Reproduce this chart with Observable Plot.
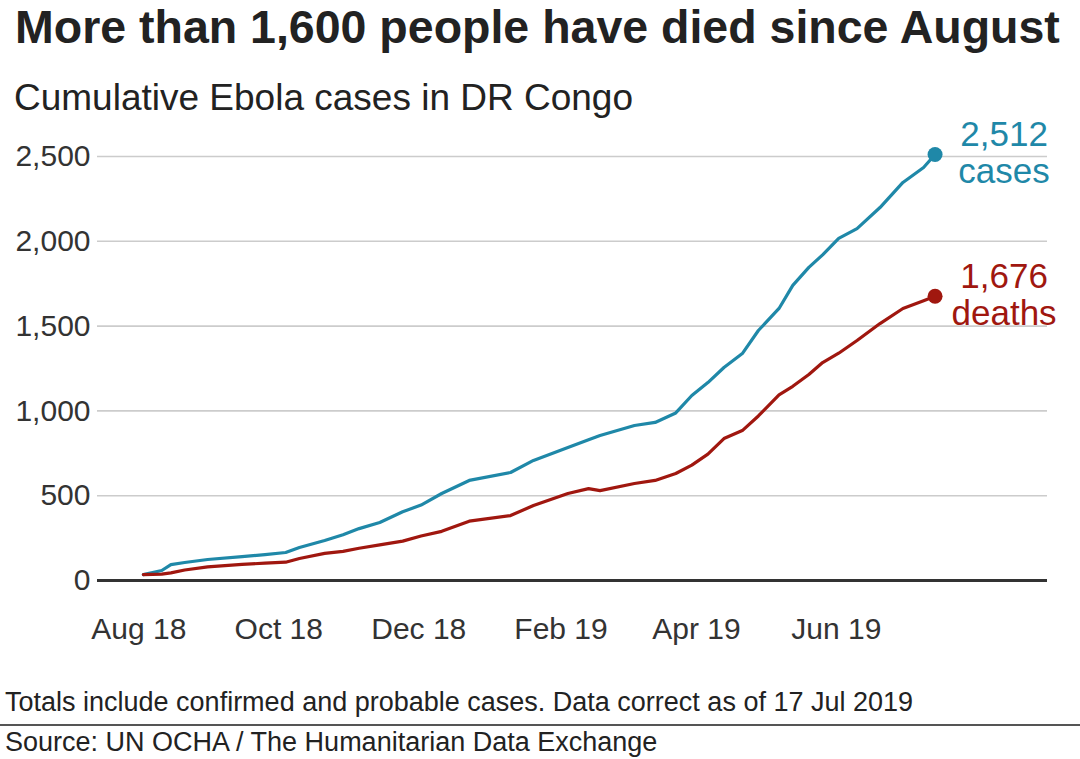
<!DOCTYPE html>
<html>
<head>
<meta charset="utf-8">
<script src="https://cdn.jsdelivr.net/npm/d3@7"></script>
<script src="https://cdn.jsdelivr.net/npm/@observablehq/plot@0.6"></script>
<style>
  html, body { margin: 0; padding: 0; background: #fff; }
  body { width: 1080px; height: 759px; position: relative; overflow: hidden; font-family: "Liberation Sans", Arial, sans-serif; color: #222; }
  .t { position: absolute; white-space: nowrap; line-height: 1; }
  #title { left: 15px; top: 0px; font-size: 46.5px; line-height: normal; font-weight: bold; color: #222; }
  #subtitle { left: 14px; top: 79px; font-size: 37px; color: #222; }
  #chart { position: absolute; left: 0; top: 115px; }
  #note { left: 5px; top: 689px; font-size: 27px; color: #222; }
  #rule { position: absolute; left: 0; top: 724px; width: 1080px; height: 0; border-top: 2px solid #555; }
  #source { left: 5px; top: 729px; font-size: 27px; color: #222; }
</style>
</head>
<body>
<div id="title" class="t">More than 1,600 people have died since August</div>
<div id="subtitle" class="t">Cumulative Ebola cases in DR Congo</div>
<div id="chart"></div>
<div id="note" class="t">Totals include confirmed and probable cases. Data correct as of 17 Jul 2019</div>
<div id="rule"></div>
<div id="source" class="t">Source: UN OCHA / The Humanitarian Data Exchange</div>
<script>
// Dates of readings
const dates = [
  "2018-08-03","2018-08-11","2018-08-15","2018-08-21","2018-08-31","2018-09-15","2018-09-25",
  "2018-10-04","2018-10-10","2018-10-21","2018-10-29","2018-11-05","2018-11-14","2018-11-24",
  "2018-12-02","2018-12-11","2018-12-23","2019-01-10","2019-01-20","2019-02-04","2019-02-13",
  "2019-02-18","2019-03-05","2019-03-14","2019-03-23","2019-03-30","2019-04-06","2019-04-13",
  "2019-04-21","2019-04-28","2019-05-07","2019-05-13","2019-05-20","2019-05-26","2019-06-02",
  "2019-06-10","2019-06-20","2019-06-30","2019-07-09","2019-07-14"
];
const cases = [
  35, 59, 94, 106, 124, 141, 153,
  165, 195, 236, 270, 306, 342, 405,
  445, 513, 590, 637, 708, 784, 830,
  855, 914, 932, 988, 1091, 1167, 1256,
  1338, 1474, 1604, 1740, 1846, 1920, 2017,
  2075, 2199, 2347, 2435, 2512
];
const deaths = [
  35, 38, 45, 62, 80, 95, 102,
  108, 130, 160, 172, 190, 210, 232,
  262, 290, 350, 383, 442, 513, 542,
  530, 572, 590, 631, 680, 745, 837,
  884, 970, 1095, 1145, 1215, 1285, 1340,
  1415, 1515, 1604, 1650, 1676
];
const seriesNames = ["cases", "deaths"];
const seriesColors = ["#1f88a8", "#a0170f"];
const endNumbers = ["2,512", "1,676"];
const yTicks = [0, 500, 1000, 1500, 2000, 2500];
const xTicks = ["2018-08-01","2018-10-01","2018-12-01","2019-02-01","2019-04-01","2019-06-01"];

const parse = d3.utcParse("%Y-%m-%d");
const caseRows = dates.map((d, i) => ({date: parse(d), value: cases[i]}));
const deathRows = dates.map((d, i) => ({date: parse(d), value: deaths[i]}));
const lastDate = parse(dates[dates.length - 1]);
const ends = [
  {date: lastDate, value: cases[cases.length - 1], num: endNumbers[0], word: seriesNames[0], color: seriesColors[0]},
  {date: lastDate, value: deaths[deaths.length - 1], num: endNumbers[1], word: seriesNames[1], color: seriesColors[1]}
];

const chart = Plot.plot({
  width: 1080,
  height: 540,
  marginLeft: 97,
  marginRight: 33,
  marginTop: 41,
  marginBottom: 75,
  style: {fontFamily: "'Liberation Sans', Arial, sans-serif", background: "transparent", color: "#333"},
  x: {type: "utc", domain: [parse("2018-07-14"), parse("2019-09-01")]},
  y: {domain: [0, 2500]},
  marks: [
    Plot.ruleY(yTicks.filter(d => d > 0), {stroke: "#cccccc", strokeWidth: 1.6}),
    Plot.axisY(yTicks, {tickSize: 0, tickPadding: 7, fontSize: 30, tickFormat: d3.format(","), label: null, color: "#333"}),
    Plot.axisX(xTicks.map(parse), {tickSize: 0, tickPadding: 37, fontSize: 30, tickFormat: d3.utcFormat("%b %y"), label: null, color: "#333"}),
    Plot.line(caseRows, {x: "date", y: "value", stroke: seriesColors[0], strokeWidth: 3.2}),
    Plot.line(deathRows, {x: "date", y: "value", stroke: seriesColors[1], strokeWidth: 3.2}),
    Plot.ruleY([0], {stroke: "#333", strokeWidth: 3}),
    Plot.dot(ends, {x: "date", y: "value", r: 7.5, fill: "color", stroke: "none"}),
    Plot.text(ends, {x: "date", y: "value", text: "num", fill: "color", dx: 69, dy: -8, fontSize: 35, textAnchor: "middle", lineAnchor: "bottom"}),
    Plot.text(ends, {x: "date", y: "value", text: "word", fill: "color", dx: 69, dy: 4, fontSize: 35, textAnchor: "middle", lineAnchor: "top"})
  ]
});
document.getElementById("chart").appendChild(chart);
</script>
</body>
</html>
